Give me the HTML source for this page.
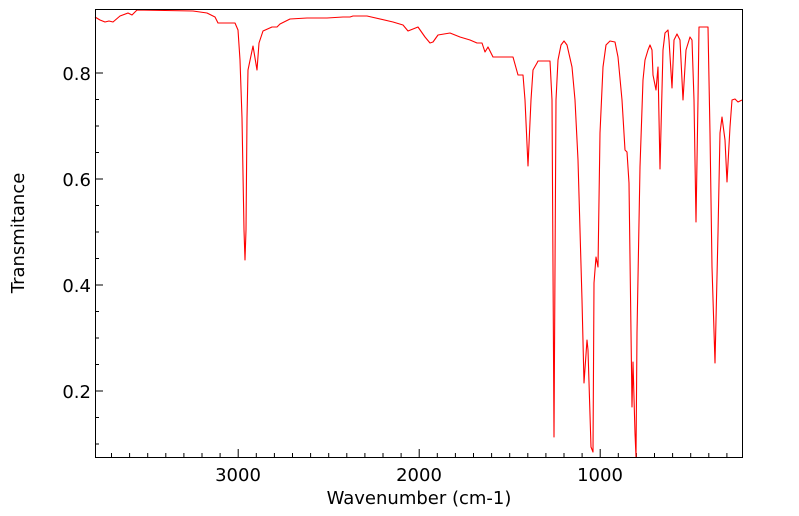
<!DOCTYPE html>
<html><head><meta charset="utf-8"><style>
html,body{margin:0;padding:0;background:#fff;}
svg{display:block;font-family:"DejaVu Sans","Liberation Sans",sans-serif;}
</style></head><body>
<svg id="s" width="799" height="516" viewBox="0 0 799 516" xmlns="http://www.w3.org/2000/svg">
<rect x="0" y="0" width="799" height="516" fill="#fff"/>
<g id="ticks" stroke="#000" stroke-width="1"></g>
<polyline fill="none" stroke="#ff0000" stroke-width="1.1" stroke-linejoin="round" points="
95,17 100,20 105,22 109,21 113,22 120,16 128,13 132,15 137,10 193,11 207,13 215,17 218,23 235,23 238,30 240,60 242,118 244,230 245,260 246,230 247,118 248,70 253,46 257,70 259,43 263,31 272,27 277,27 280,24 290,19 307,18 327,18 343,17 350,17 353,16 367,16 393,22 403,25 408,31 418,27 425,37 430,43 433,42 438,35 450,33 460,37 470,40 477,43 482,43 485,52 488,47 493,57 513,57 518,75
520,75 523,75 525,100 528,166 531,100 533,70 537,63 538,61 550,61 552,100 554,437 556,100 558,60 561,45 564,41 567,45 572,67 575,100 578,160 582,300 584,383 587,340 588,350 591,447 593,452 594,283 596,257 598,267 600,133 603,67 606,45 610,41 615,42 618,57 622,100 625,150 627,152 629,183 632,407 633,362 635,433 636,457 637,333 640,167 643,80 645,60 648,50 650,45 652,50 653,75 656,90 658,67 660,169 663,50 665,33 668,30 669,40 672,88 674,40 677,34 680,40 683,100 686,50 690,37 692,40 694,100 696,222 698,100 699,27 708,27 710,133 712,267 715,363 718,233 720,133 722,117 725,140 727,182 730,127 732,100 735,99 738,102 742,100"/>
<rect x="95.5" y="9.5" width="647" height="448" fill="none" stroke="#000" stroke-width="1"/>
<g font-size="18" fill="#000" text-anchor="end">
<text x="91" y="80">0.8</text>
<text x="91" y="186">0.6</text>
<text x="91" y="292">0.4</text>
<text x="91" y="398">0.2</text>
</g>
<g font-size="18" fill="#000" text-anchor="middle">
<text x="238" y="481">3000</text>
<text x="419" y="481">2000</text>
<text x="600" y="481">1000</text>
</g>
<text x="419" y="504" font-size="18" text-anchor="middle">Wavenumber (cm-1)</text>
<text transform="translate(24,233) rotate(-90)" font-size="18" text-anchor="middle">Transmitance</text>
</svg>
<script>
var g=document.getElementById('ticks'),h='';
for(var w=3700;w>=300;w-=100){var x=600.2+(1000-w)*0.181;var L=(w%1000==0)?8:4;h+='<line x1="'+x+'" y1="457" x2="'+x+'" y2="'+(457-L)+'"/>';}
for(var i=1;i<=16;i++){var v=0.05*i;var y=73+(0.8-v)*530;if(y<10||y>457)continue;var L=(i%4==0)?8:4;h+='<line x1="95" y1="'+y+'" x2="'+(95+L)+'" y2="'+y+'"/>';}
g.innerHTML=h;
</script>
</body></html>
